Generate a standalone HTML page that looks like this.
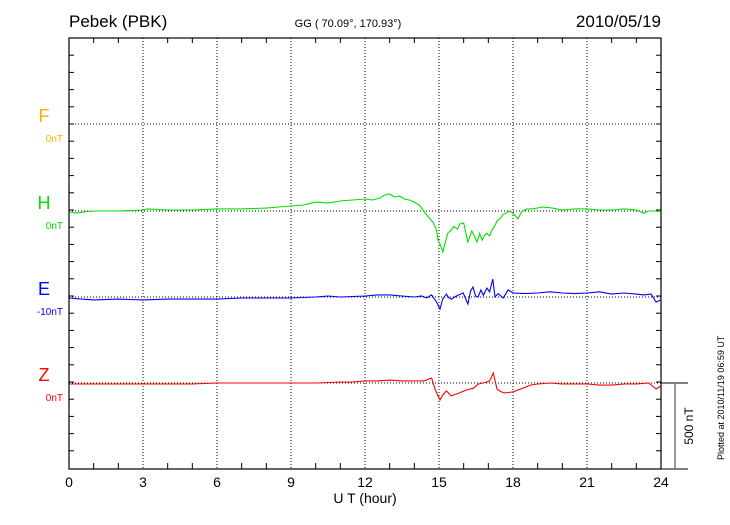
<!DOCTYPE html>
<html><head><meta charset="utf-8"><style>
body{margin:0;background:#fff}
svg text{font-family:"Liberation Sans",sans-serif}
</style></head><body>
<svg id="chart" width="730" height="520" xmlns="http://www.w3.org/2000/svg">
<text x="69" y="27" font-size="17">Pebek (PBK)</text>
<text x="348" y="27" font-size="11" text-anchor="middle">GG ( 70.09°, 170.93°)</text>
<text x="661" y="27" font-size="17" text-anchor="end">2010/05/19</text>
<text x="365" y="503" font-size="14" text-anchor="middle">U T (hour)</text>
<text transform="translate(724,460) rotate(-90)" font-size="9">Plotted at 2010/11/19 06:59 UT</text>
<text transform="translate(693,426) rotate(-90)" font-size="12" text-anchor="middle">500 nT</text>
<g id="g"></g>
</svg>
<script>
const hourTicks=[0,3,6,9,12,15,18,21,24];
const channels=["F","H","E","Z"];
const channelColors=["#f5b400","#00e000","#0000ff","#ff0000"];
const channelOffsets=["0nT","0nT","-10nT","0nT"];
const hT=[0,0.3,0.6,1,2,3,3.2,4,5,6,7,8,8.5,9,9.5,10,10.5,11,11.5,12,12.3,12.6,12.8,13,13.2,13.4,13.6,13.8,14,14.2,14.35,14.5,14.75,14.9,14.96,15.06,15.16,15.26,15.36,15.5,15.6,15.75,15.85,16.0,16.17,16.33,16.45,16.54,16.65,16.75,16.85,16.94,17.05,17.15,17.25,17.35,17.5,17.6,17.75,17.88,18.05,18.2,18.35,18.56,18.8,19.2,19.6,20,20.5,21,21.5,22,22.5,23,23.3,23.5,23.8,24];
const hV=[-6,-12,-6,0,0,6,12,6,6,12,12,17,23,29,35,52,46,58,64,70,64,75,93,99,81,87,70,64,52,35,6,-23,-64,-110,-168,-200,-238,-180,-128,-110,-90,-105,-75,-70,-180,-116,-150,-180,-130,-170,-140,-130,-145,-110,-90,-58,-40,-20,-10,0,-20,-46,-5,12,12,23,17,6,12,12,6,6,12,6,-12,0,0,-6];
const eT=[0,0.5,1,2,3,4,5,6,7,8,9,10,10.5,11,12,12.5,13,13.5,14,14.3,14.5,14.7,14.9,15.04,15.15,15.3,15.4,15.5,15.7,15.98,16.07,16.17,16.28,16.38,16.48,16.58,16.7,16.8,16.94,17.05,17.18,17.27,17.4,17.6,17.8,18,18.5,19,19.5,20,20.5,21,21.5,22,22.5,23,23.3,23.6,23.8,24];
const eV=[-6,-12,-17,-12,-17,-12,-12,-12,-6,-6,-6,0,6,0,6,12,12,6,0,6,-6,12,-29,-70,-12,17,-6,-12,6,23,-6,-41,35,58,6,0,40,10,52,30,104,0,20,-6,41,23,20,23,30,23,20,23,30,17,23,17,12,17,-29,-17];
const zT=[0,1,2,3,4,5,6,7,8,9,10,11,11.5,12,12.5,13,13.5,14,14.4,14.7,14.85,15.04,15.15,15.3,15.5,15.8,16.1,16.4,16.6,16.94,17.05,17.2,17.35,17.5,17.67,18,18.4,18.7,19,19.5,20,20.5,21,21.5,22,22.5,23,23.5,23.8,24];
const zV=[-6,-6,-6,-6,-6,-6,0,0,0,0,0,6,6,12,12,17,12,12,12,29,-40,-99,-70,-46,-75,-60,-41,-30,-6,6,12,58,-35,-50,-58,-52,-30,-12,-6,0,-6,-6,-6,-12,-12,-6,-6,0,-35,-17];
const L=69,R=661,T=38,B=469,bases=[124,211,297,383],pxPerNT=86/500;
const xs=h=>L+(R-L)*h/24;
const ys=(v,b)=>b-v*pxPerNT;
const g=document.getElementById('g');const NS="http://www.w3.org/2000/svg";
function mk(t,a){const e=document.createElementNS(NS,t);for(const k in a)e.setAttribute(k,a[k]);g.appendChild(e);return e;}
let e;
hourTicks.slice(1,-1).forEach(h=>{e=mk('line',{x1:xs(h),x2:xs(h),y1:T,y2:B,stroke:'#000','stroke-dasharray':'1 2','stroke-width':1});

});
bases.forEach(b=>{e=mk('line',{x1:L,x2:R,y1:b,y2:b,stroke:'#000','stroke-dasharray':'1 2','stroke-width':1});

});
for(let h=1;h<24;h++){mk('line',{x1:xs(h),x2:xs(h),y1:T,y2:T+(h%3?5:0),stroke:'#000'});mk('line',{x1:xs(h),x2:xs(h),y1:B,y2:B-(h%3?6:0),stroke:'#000'});}
for(let y=T+17.2;y<B-2;y+=17.2){mk('line',{x1:L,x2:L+5,y1:y,y2:y,stroke:'#000'});mk('line',{x1:R,x2:R-5,y1:y,y2:y,stroke:'#000'});}
e=mk('rect',{x:L,y:T,width:R-L,height:B-T,fill:'none',stroke:'#000','stroke-width':1.2});


hourTicks.forEach(h=>{e=mk('text',{x:xs(h),y:487,'font-size':14,'text-anchor':'middle'});e.textContent=h;

});
channels.forEach((c,i)=>{e=mk('text',{x:44,y:bases[i]-2,'font-size':18,'text-anchor':'middle',fill:channelColors[i]});e.textContent=c;


e=mk('text',{x:63,y:bases[i]+18,'font-size':10,'text-anchor':'end',fill:channelColors[i]});e.textContent=channelOffsets[i];

});
mk('line',{x1:R,x2:688,y1:383,y2:383,stroke:'#000'});mk('line',{x1:R,x2:688,y1:B,y2:B,stroke:'#000'});
e=mk('line',{x1:675,x2:675,y1:383,y2:B,stroke:'#777','stroke-width':1.5});


[[hT,hV,1,'h-trace'],[eT,eV,2,'e-trace'],[zT,zV,3,'z-trace']].forEach(([t,v,i,n])=>{
const d=t.map((h,k)=>(k?'L':'M')+xs(h).toFixed(1)+','+ys(v[k],bases[i]).toFixed(1)).join('');
e=mk('path',{d:d,fill:'none',stroke:channelColors[i],'stroke-width':1.1});

});
</script>
</body></html>
